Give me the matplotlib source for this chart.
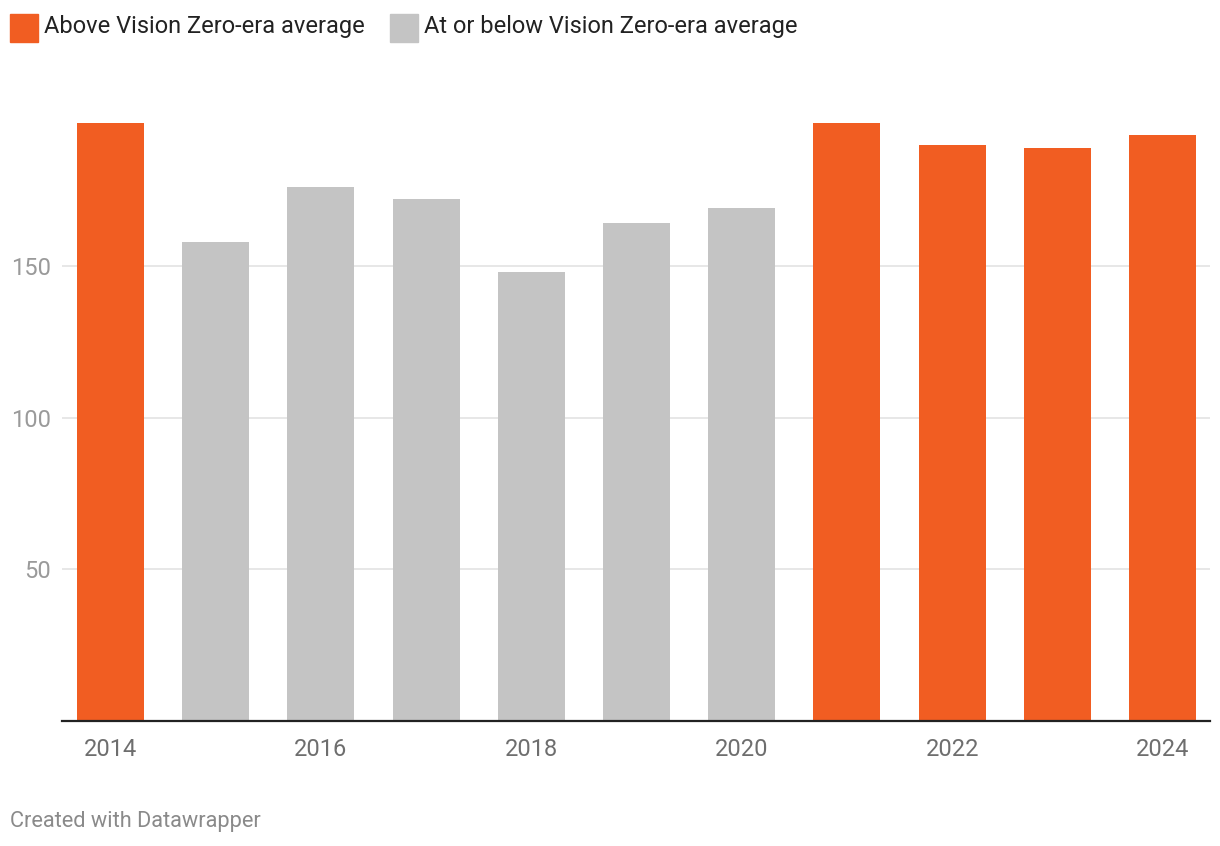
import matplotlib.pyplot as plt
from matplotlib.patches import Rectangle

plt.rcParams['font.family'] = ['Roboto', 'DejaVu Sans']

# data
years = [2014, 2015, 2016, 2017, 2018, 2019, 2020, 2021, 2022, 2023, 2024]
values = [197, 158, 176, 172, 148, 164, 169, 197, 190, 189, 193]
above = [True, False, False, False, False, False, False, True, True, True, True]

orange = '#f15d22'
grey = '#c4c4c4'

W, H = 1220, 846
fig = plt.figure(figsize=(W / 100, H / 100), dpi=100)
ax = fig.add_axes([62 / W, (H - 721) / H, (1210 - 62) / W, (721 - 99) / H])

colors = [orange if a else grey for a in above]
ax.bar(years, values, width=0.637, color=colors, zorder=2)

ax.set_xlim(2014 - 0.461, 2024 + 0.451)
ax.set_ylim(0, 205)
ax.set_yticks([50, 100, 150])
ax.set_xticks([2014, 2016, 2018, 2020, 2022, 2024])
ax.grid(axis='y', color='#e3e3e3', linewidth=1.2, zorder=0)

for s in ['top', 'right', 'left']:
    ax.spines[s].set_visible(False)
ax.spines['bottom'].set_color('#222222')
ax.spines['bottom'].set_linewidth(1.6)
ax.spines['bottom'].set_zorder(3)

ax.tick_params(axis='y', length=0, pad=8, labelsize=17, labelcolor='#9a9a9a')
ax.tick_params(axis='x', length=0, pad=12, labelsize=17, labelcolor='#6e6e6e')

# legend drawn by hand, like the datawrapper one
def legend_item(x0, label, color):
    fig.patches.append(Rectangle((x0 / W, (H - 42) / H), 28 / W, 28 / H,
                                 transform=fig.transFigure, color=color))
    fig.text((x0 + 34) / W, (H - 27) / H, label, fontsize=17, color='#222222',
             va='center', ha='left')

legend_item(10, 'Above Vision Zero-era average', orange)
legend_item(390, 'At or below Vision Zero-era average', grey)

fig.text(10 / W, (H - 821) / H, 'Created with Datawrapper', fontsize=15.7,
         color='#8a8a8a', va='center', ha='left')

fig.savefig('out.png', dpi=100)
